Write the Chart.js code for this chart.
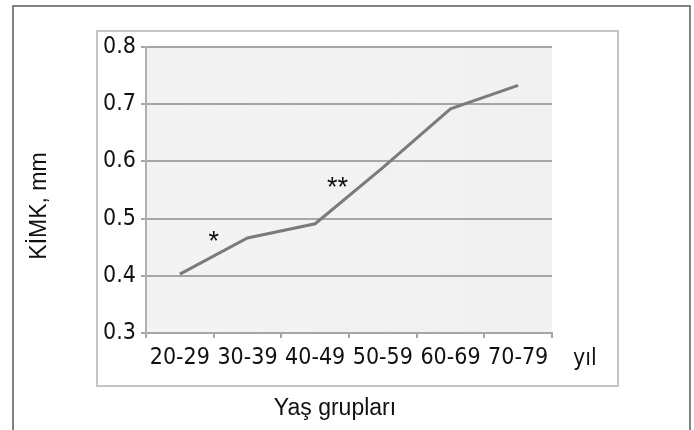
<!DOCTYPE html>
<html lang="tr">
<head>
  <meta charset="UTF-8" />
  <title>KİMK - Yaş grupları</title>
  <style>
    html, body { margin: 0; padding: 0; background: #fff; }
    #wrap { width: 694px; height: 430px; }
  </style>
</head>
<body>
  <div id="wrap"><canvas id="kimkChart" width="694" height="430"></canvas></div>

  <script src="https://cdn.jsdelivr.net/npm/chart.js"></script>
  <script>
    // data
    const ageGroups = ["20-29", "30-39", "40-49", "50-59", "60-69", "70-79"];
    const kimkValues = [0.403, 0.466, 0.491, 0.589, 0.692, 0.733];
    const yTicks = [0.3, 0.4, 0.5, 0.6, 0.7, 0.8];
    // significance marks: category position (index) and value
    const starLabels = ["*", "**"];
    const starX = [0.5, 2.33];
    const starY = [0.458, 0.553];

    const narrow = "'Liberation Sans Narrow', 'DejaVu Sans Condensed', 'Liberation Sans', Arial, sans-serif";
    const regular = "'Liberation Sans', Arial, sans-serif";

    // frames, plot background, titles and stars
    const decor = {
      id: "decor",
      beforeDraw(chart) {
        const ctx = chart.ctx;
        const a = chart.chartArea;
        ctx.save();
        // outer frame
        ctx.strokeStyle = "#5a5a5a";
        ctx.lineWidth = 1.5;
        ctx.strokeRect(13, 6, 677, 440);
        // inner frame
        ctx.strokeStyle = "#c4c4c4";
        ctx.lineWidth = 2;
        ctx.strokeRect(97, 31, 521, 355);
        // plot area background
        const g = ctx.createLinearGradient(a.left, 0, a.right, 0);
        g.addColorStop(0, "#f3f3f3");
        g.addColorStop(1, "#f1f1f1");
        ctx.fillStyle = g;
        ctx.fillRect(a.left, a.top, a.right - a.left, a.bottom - a.top);
        ctx.restore();
      },
      afterDraw(chart) {
        const ctx = chart.ctx;
        const x = chart.scales.x;
        const y = chart.scales.y;
        ctx.save();
        ctx.fillStyle = "#111";
        ctx.textBaseline = "middle";
        // unit after the last category
        ctx.font = "23px " + narrow;
        ctx.textAlign = "left";
        ctx.fillText("yıl", 573, 359);
        // x title
        ctx.font = "23px " + regular;
        ctx.textAlign = "center";
        ctx.fillText("Yaş grupları", 335, 409);
        // y title
        ctx.translate(40, 206);
        ctx.rotate(-Math.PI / 2);
        ctx.fillText("KİMK, mm", 0, 0);
        ctx.restore();

        ctx.save();
        ctx.fillStyle = "#111";
        ctx.font = "27px " + regular;
        ctx.textAlign = "center";
        ctx.textBaseline = "middle";
        starLabels.forEach((s, i) => {
          ctx.fillText(s, x.getPixelForValue(starX[i]), y.getPixelForValue(starY[i]));
        });
        ctx.restore();
      }
    };

    new Chart(document.getElementById("kimkChart"), {
      type: "line",
      data: {
        labels: ageGroups,
        datasets: [{
          data: kimkValues,
          borderColor: "#7b7b7b",
          borderWidth: 3,
          pointRadius: 0,
          tension: 0,
          fill: false
        }]
      },
      options: {
        responsive: false,
        animation: false,
        events: [],
        layout: { padding: { top: 47, right: 142, bottom: 0, left: 0 } },
        plugins: {
          legend: { display: false },
          tooltip: { enabled: false }
        },
        scales: {
          x: {
            offset: true,
            grid: {
              offset: true,
              drawOnChartArea: false,
              drawTicks: true,
              tickLength: 5,
              color: "#a6a6a6",
              lineWidth: 2
            },
            border: { color: "#a6a6a6", width: 2 },
            ticks: {
              color: "#111",
              font: { family: narrow, size: 23 },
              padding: 6,
              maxRotation: 0,
              autoSkip: false
            },
            afterFit(scale) { scale.height = 97; }
          },
          y: {
            min: 0.3,
            max: 0.8,
            afterBuildTicks(scale) {
              scale.ticks = yTicks.map(v => ({ value: v }));
            },
            grid: {
              color: "#a6a6a6",
              lineWidth: 2,
              tickLength: 5
            },
            border: { color: "#b0b0b0", width: 2 },
            ticks: {
              color: "#111",
              font: { family: narrow, size: 23 },
              padding: 5,
              callback: v => v.toFixed(1)
            },
            afterFit(scale) { scale.width = 146; }
          }
        }
      },
      plugins: [decor]
    });
  </script>
</body>
</html>
